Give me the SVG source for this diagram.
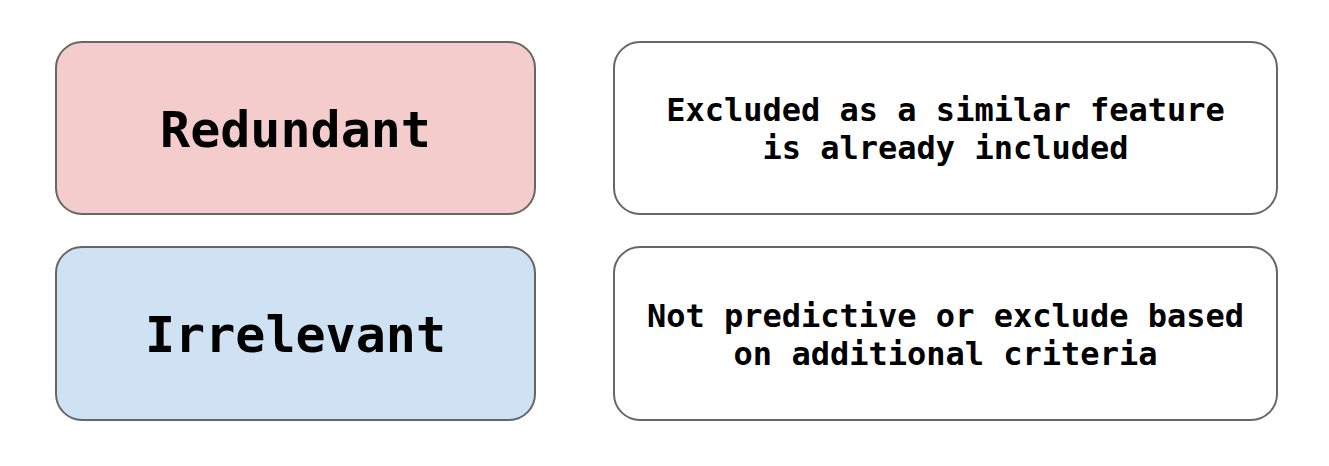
<svg xmlns="http://www.w3.org/2000/svg" width="1329" height="466" viewBox="0 0 1329 466">
<style>
.box{stroke:#666;stroke-width:2}
.t{font-family:"DejaVu Sans Mono","Liberation Mono",monospace;font-weight:bold;fill:#000;text-anchor:middle}
.big{font-size:50px}
.small{font-size:32px}
</style>
<rect width="1329" height="466" fill="#fff"/>
<g id="redundant">
<rect class="box" x="56" y="42" width="479" height="172" rx="26" fill="#f4cccc"/>
<text class="t big" x="295.5" y="147">Redundant</text>
</g>
<g id="redundant-desc">
<rect class="box" x="614" y="42" width="663" height="172" rx="26" fill="#fff"/>
<text class="t small" x="945.5" y="121">Excluded as a similar feature</text>
<text class="t small" x="945.5" y="159">is already included</text>
</g>
<g id="irrelevant">
<rect class="box" x="56" y="247" width="479" height="173" rx="26" fill="#cfe2f3"/>
<text class="t big" x="295.5" y="352">Irrelevant</text>
</g>
<g id="irrelevant-desc">
<rect class="box" x="614" y="247" width="663" height="173" rx="26" fill="#fff"/>
<text class="t small" x="945.5" y="327">Not predictive or exclude based</text>
<text class="t small" x="945.5" y="365">on additional criteria</text>
</g>
<g id="connectors"></g>
</svg>
